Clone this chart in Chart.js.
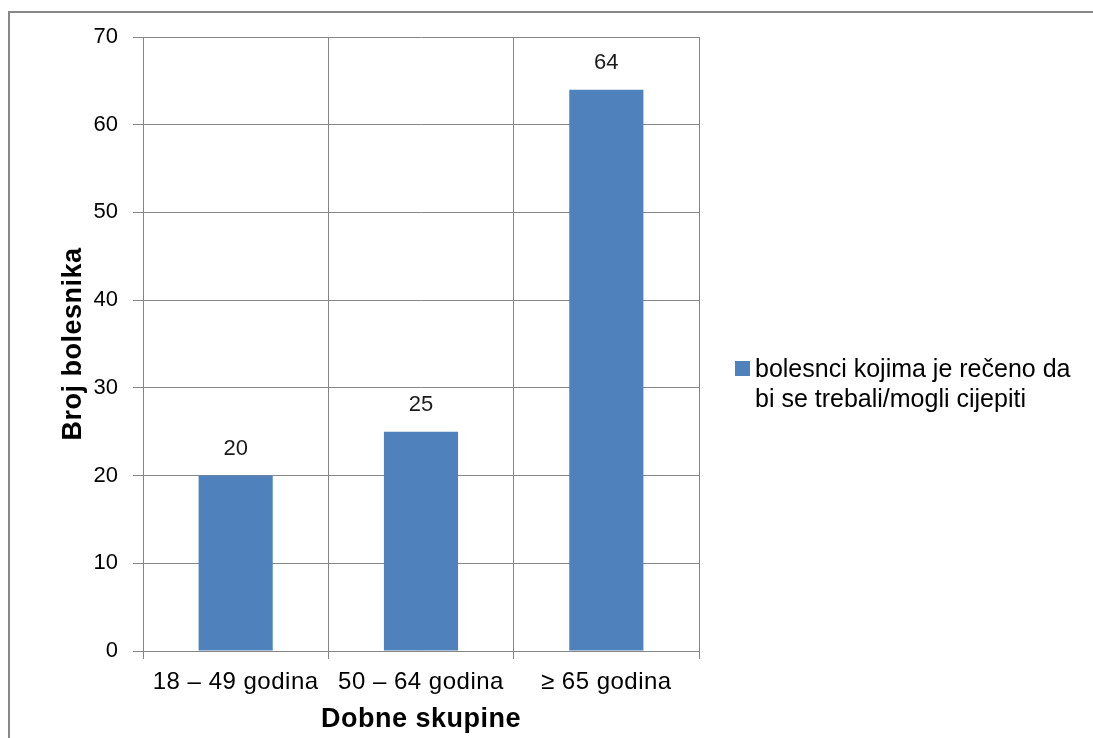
<!DOCTYPE html>
<html>
<head>
<meta charset="utf-8">
<script src="https://cdn.jsdelivr.net/npm/chart.js@4.4.1/dist/chart.umd.min.js"></script>
<style>
html,body{margin:0;padding:0;background:#fff;}
#wrap{width:1093px;height:738px;position:relative;}
</style>
</head>
<body>
<div id="wrap"><canvas id="c" width="1093" height="738"></canvas></div>
<script>
const categories = ['18 \u2013 49 godina', '50 \u2013 64 godina', '\u2265 65 godina'];
const seriesLabel = 'bolesnci kojima je re\u010Deno da bi se trebali/mogli cijepiti';
const legendLines = ['bolesnci kojima je re\u010Deno da', 'bi se trebali/mogli cijepiti'];
const patientCounts = [20, 25, 64];
const yTicks = [0, 10, 20, 30, 40, 50, 60, 70];
const xTitle = 'Dobne skupine';
const yTitle = 'Broj bolesnika';

const FONT = "'Liberation Sans', Arial, sans-serif";
const GRID = '#868686';
const BAR = '#4F81BD';

const decor = {
  id: 'decor',
  beforeDraw(chart) {
    const ctx = chart.ctx;
    ctx.save();
    ctx.fillStyle = '#ffffff';
    ctx.fillRect(0, 0, chart.width, chart.height);
    ctx.fillStyle = '#888888';
    ctx.fillRect(8, 11, chart.width - 8, 2);
    ctx.fillRect(8, 11, 2, chart.height - 11);
    ctx.restore();
    ctx.letterSpacing = '0.5px';
  },
  beforeDatasetsDraw(chart) {
    chart.ctx.letterSpacing = '0px';
  },
  afterDatasetsDraw(chart) {
    const ctx = chart.ctx;
    const meta = chart.getDatasetMeta(0);
    ctx.save();
    ctx.font = '22px ' + FONT;
    ctx.fillStyle = '#1a1a1a';
    ctx.textAlign = 'center';
    ctx.textBaseline = 'middle';
    meta.data.forEach((bar, i) => {
      ctx.fillText(String(chart.data.datasets[0].data[i]), bar.x, bar.y - 27);
    });
    ctx.restore();
  },
  afterDraw(chart) {
    const ctx = chart.ctx;
    ctx.save();
    ctx.fillStyle = chart.data.datasets[0].backgroundColor;
    ctx.fillRect(735, 361, 15, 15);
    ctx.font = '25px ' + FONT;
    ctx.fillStyle = '#000000';
    ctx.textAlign = 'left';
    ctx.textBaseline = 'alphabetic';
    legendLines.forEach((line, i) => {
      ctx.fillText(line, 755, 377 + i * 30);
    });
    ctx.restore();
  }
};

new Chart(document.getElementById('c'), {
  type: 'bar',
  data: {
    labels: categories,
    datasets: [{
      label: seriesLabel,
      data: patientCounts,
      backgroundColor: BAR,
      borderWidth: 0,
      barPercentage: 0.4,
      categoryPercentage: 1.0
    }]
  },
  options: {
    responsive: false,
    animation: false,
    devicePixelRatio: 1,
    layout: { padding: { left: 0, right: 394, top: 37, bottom: 0 } },
    plugins: {
      legend: { display: false },
      tooltip: { enabled: false },
      title: { display: false }
    },
    scales: {
      x: {
        grid: { display: true, offset: true, color: GRID, tickColor: GRID, tickLength: 8, lineWidth: 1 },
        border: { display: true, color: GRID, width: 1 },
        ticks: { color: '#000', font: { family: FONT, size: 24 }, padding: 9, maxRotation: 0, autoSkip: false, z: 0 },
        title: { display: true, text: xTitle, color: '#000', font: { family: FONT, size: 27, weight: 'bold' }, padding: { top: 0, bottom: 2 } },
        afterFit(scale) { scale.height = 87; }
      },
      y: {
        min: 0,
        max: 70,
        afterBuildTicks(scale) { scale.ticks = yTicks.map(v => ({ value: v })); },
        grid: { color: GRID, tickColor: GRID, tickLength: 10, lineWidth: 1 },
        border: { display: true, color: GRID, width: 1 },
        ticks: { color: '#000', font: { family: FONT, size: 22 }, padding: 15, z: 1 },
        title: { display: true, text: yTitle, color: '#000', font: { family: FONT, size: 27, weight: 'bold' }, padding: { top: 57, bottom: 0 } },
        afterFit(scale) { scale.width = 143; }
      }
    }
  },
  plugins: [decor]
});
</script>
</body>
</html>
